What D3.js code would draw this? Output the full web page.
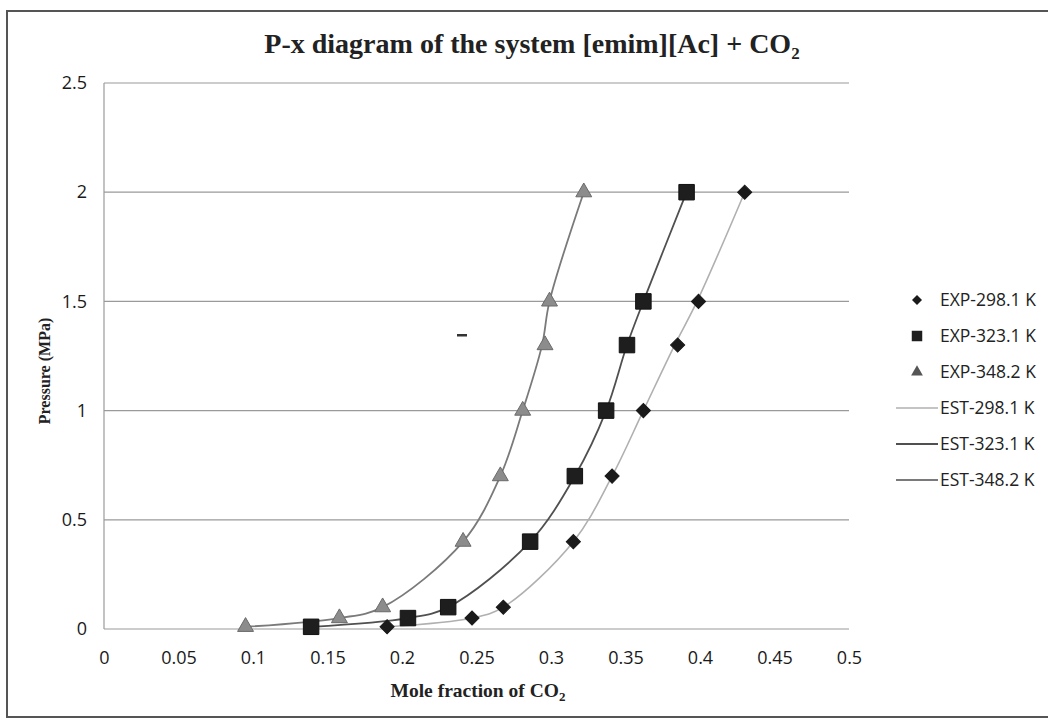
<!DOCTYPE html>
<html>
<head>
<meta charset="utf-8">
<script src="https://cdn.jsdelivr.net/npm/d3@7"></script>
<style>
  body { margin: 0; background: #fff; }
  svg { display: block; }
</style>
</head>
<body>
<svg width="1048" height="721"></svg>
<script>
const svg = d3.select("svg");

// pressures (MPa) shared by all series
const pressure = [0.01, 0.05, 0.1, 0.4, 0.7, 1.0, 1.3, 1.5, 2.0];
// mole fraction of CO2, experimental
const exp298 = [0.190, 0.247, 0.268, 0.315, 0.341, 0.362, 0.385, 0.399, 0.430];
const exp323 = [0.139, 0.204, 0.231, 0.286, 0.316, 0.337, 0.351, 0.362, 0.391];
const exp348 = [0.095, 0.158, 0.187, 0.241, 0.266, 0.281, 0.296, 0.299, 0.322];
// estimated curves
const est298 = [0.190, 0.247, 0.268, 0.315, 0.341, 0.362, 0.383, 0.398, 0.430];
const est323 = [0.139, 0.204, 0.231, 0.286, 0.316, 0.337, 0.351, 0.362, 0.391];
const est348 = [0.095, 0.158, 0.187, 0.241, 0.266, 0.281, 0.294, 0.299, 0.322];

const xTicks = [0, 0.05, 0.1, 0.15, 0.2, 0.25, 0.3, 0.35, 0.4, 0.45, 0.5];
const yTicks = [0, 0.5, 1, 1.5, 2, 2.5];
const legendLabels = ["EXP-298.1 K","EXP-323.1 K","EXP-348.2 K","EST-298.1 K","EST-323.1 K","EST-348.2 K"];

const x = d3.scaleLinear().domain([0, 0.5]).range([104, 849]);
const y = d3.scaleLinear().domain([0, 2.5]).range([629, 83]);

// outer frame
svg.append("rect")
  .attr("x", 7).attr("y", 11).attr("width", 1100).attr("height", 706)
  .attr("fill", "none").attr("stroke", "#555").attr("stroke-width", 2);

// title
const title = svg.append("text")
  .attr("x", 532).attr("y", 53)
  .attr("text-anchor", "middle")
  .attr("font-family", "Liberation Serif, serif")
  .attr("font-weight", "bold")
  .attr("font-size", 28)
  .attr("fill", "#222");
title.append("tspan").text("P-x diagram of the system [emim][Ac] + CO");
title.append("tspan").attr("font-size", 17).attr("dy", 6).text("2");

// gridlines
svg.append("g").selectAll("line")
  .data(yTicks)
  .join("line")
  .attr("x1", x(0)).attr("x2", x(0.5))
  .attr("y1", d => y(d)).attr("y2", d => y(d))
  .attr("stroke", "#9a9a9a").attr("stroke-width", 1.2);

svg.append("line")
  .attr("x1", x(0)).attr("x2", x(0))
  .attr("y1", y(0)).attr("y2", y(2.5))
  .attr("stroke", "#9a9a9a").attr("stroke-width", 1.2);

// axes (labels only)
const xAxis = svg.append("g")
  .attr("transform", `translate(0,${y(0)})`)
  .call(d3.axisBottom(x).tickValues(xTicks).tickSize(0).tickPadding(22).tickFormat(d3.format("~g")));
const yAxis = svg.append("g")
  .attr("transform", `translate(${x(0)},0)`)
  .call(d3.axisLeft(y).tickValues(yTicks).tickSize(0).tickPadding(17).tickFormat(d3.format("~g")));
[xAxis, yAxis].forEach(a => {
  a.select(".domain").remove();
  a.selectAll("text")
    .attr("font-family", "Open Sans, sans-serif")
    .attr("font-size", 18)
    .attr("fill", "#1a1a1a");
});

// axis titles
const xt = svg.append("text")
  .attr("x", 478).attr("y", 697)
  .attr("text-anchor", "middle")
  .attr("font-family", "Liberation Serif, serif")
  .attr("font-weight", "bold")
  .attr("font-size", 19.5)
  .attr("fill", "#222");
xt.append("tspan").text("Mole fraction of CO");
xt.append("tspan").attr("font-size", 13).attr("dy", 4).text("2");

svg.append("text")
  .attr("transform", "translate(50,371) rotate(-90)")
  .attr("text-anchor", "middle")
  .attr("font-family", "Liberation Serif, serif")
  .attr("font-weight", "bold")
  .attr("font-size", 16)
  .attr("fill", "#222")
  .text("Pressure (MPa)");

// series
const estSeries = [
  {xs: est298, color: "#b0b0b0", width: 1.6},
  {xs: est323, color: "#505050", width: 1.8},
  {xs: est348, color: "#7a7a7a", width: 1.8}
];
const line = d3.line()
  .x(d => x(d[0])).y(d => y(d[1]))
  .curve(d3.curveCatmullRom.alpha(0.5));

svg.append("g").selectAll("path")
  .data(estSeries)
  .join("path")
  .attr("d", s => line(s.xs.map((v, i) => [v, pressure[i]])))
  .attr("fill", "none")
  .attr("stroke", s => s.color)
  .attr("stroke-width", s => s.width);

const sym = {
  diamond: d3.symbol().type(d3.symbolSquare).size(100),
  square: d3.symbol().type(d3.symbolSquare).size(240),
  triangle: d3.symbol().type(d3.symbolTriangle).size(110)
};
const expSeries = [
  {xs: exp298, shape: "diamond", fill: "#1a1a1a", stroke: "#1a1a1a", rot: 45},
  {xs: exp323, shape: "square", fill: "#1e1e1e", stroke: "#111", rot: 0},
  {xs: exp348, shape: "triangle", fill: "#8c8c8c", stroke: "#6a6a6a", rot: 0}
];
expSeries.forEach(s => {
  svg.append("g").selectAll("path")
    .data(s.xs.map((v, i) => [v, pressure[i]]))
    .join("path")
    .attr("transform", d => `translate(${x(d[0])},${y(d[1])}) rotate(${s.rot})`)
    .attr("d", sym[s.shape]())
    .attr("fill", s.fill)
    .attr("stroke", s.stroke)
    .attr("stroke-width", 1);
});

// legend
const legend = svg.append("g").attr("transform", "translate(0,300)");
const items = legend.selectAll("g")
  .data(legendLabels)
  .join("g")
  .attr("transform", (d, i) => `translate(0,${i * 36})`);

const small = {
  diamond: d3.symbol().type(d3.symbolSquare).size(50),
  square: d3.symbol().type(d3.symbolSquare).size(110),
  triangle: d3.symbol().type(d3.symbolTriangle).size(60)
};
items.each(function(d, i) {
  const g = d3.select(this);
  if (i < 3) {
    const s = expSeries[i];
    g.append("path")
      .attr("transform", `translate(917,0) rotate(${s.rot})`)
      .attr("d", small[s.shape]())
      .attr("fill", i === 2 ? "#555" : s.fill);
  } else {
    const s = estSeries[i - 3];
    g.append("line")
      .attr("x1", 896).attr("x2", 938)
      .attr("stroke", s.color).attr("stroke-width", s.width);
  }
  g.append("text")
    .attr("x", 940).attr("dy", "0.35em")
    .attr("font-family", "Open Sans, sans-serif")
    .attr("font-size", 17.5)
    .attr("fill", "#222")
    .text(d);
});

// small stray mark in the scan
svg.append("rect")
  .attr("x", 457).attr("y", 334).attr("width", 10).attr("height", 2.5)
  .attr("fill", "#333");
</script>
</body>
</html>
